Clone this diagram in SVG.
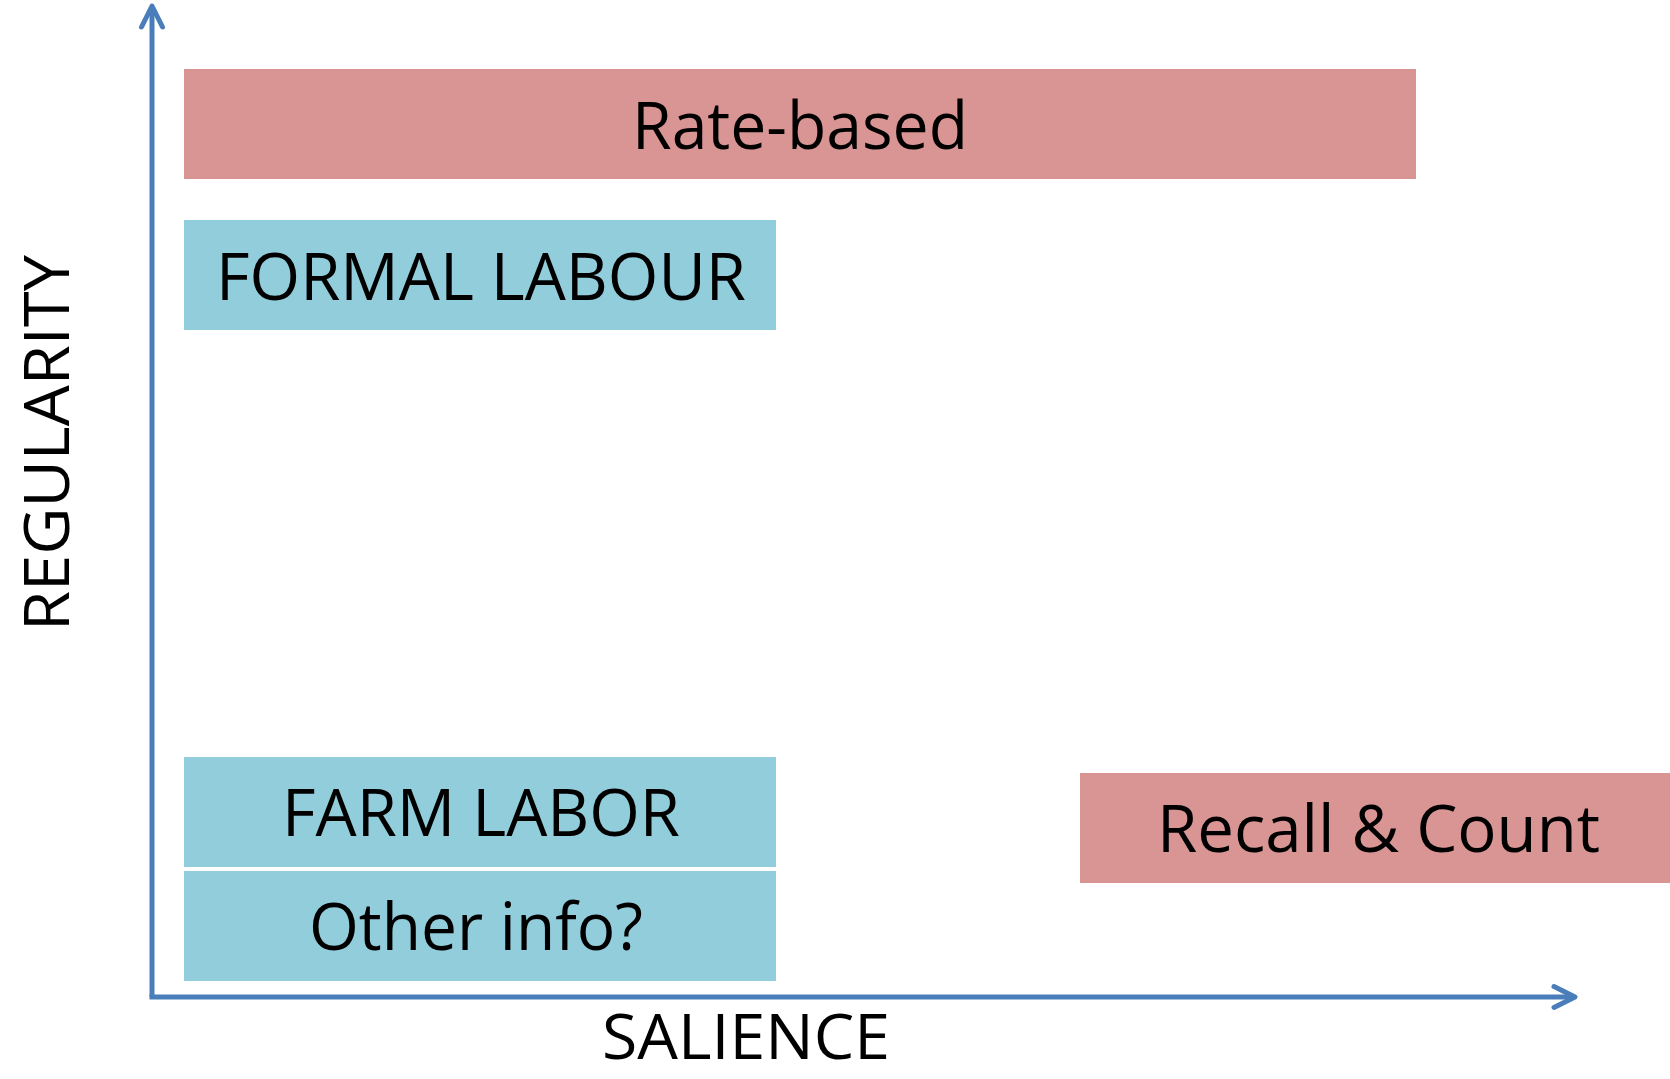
<svg xmlns="http://www.w3.org/2000/svg" width="1670" height="1079" viewBox="0 0 1670 1079">
<style>
.pink{fill:#D99594}
.blue{fill:#92CDDC}
.lbl{font-family:"Open Sans","Liberation Sans",sans-serif;font-size:66px;fill:#000;text-anchor:middle}
.axl{font-size:63px}
.axis{stroke:#4A7EBB;stroke-width:5;fill:none}
</style>
<defs>
<marker id="arr" markerUnits="userSpaceOnUse" markerWidth="40" markerHeight="40" viewBox="-30 -20 40 40" refX="-2" refY="0" orient="auto" overflow="visible">
<path d="M -21 -10.5 L 0 0 L -21 10.5" fill="none" stroke="#4A7EBB" stroke-width="5" stroke-linecap="round" stroke-linejoin="round"/>
</marker>
</defs>
<rect width="1670" height="1079" fill="#fff"/>
<g id="connectors">
<path class="axis" d="M152 997 L152 8" marker-end="url(#arr)"/>
<path class="axis" d="M149.5 997 L1573 997" marker-end="url(#arr)"/>
</g>
<g id="rate-based">
<rect class="pink" x="184" y="69" width="1232" height="110"/>
<text class="lbl" x="800" y="148.5" textLength="336" lengthAdjust="spacingAndGlyphs">Rate-based</text>
</g>
<g id="formal-labour">
<rect class="blue" x="184" y="220" width="592" height="110"/>
<text class="lbl" x="481" y="299.5" textLength="530" lengthAdjust="spacingAndGlyphs">FORMAL LABOUR</text>
</g>
<g id="farm-labor">
<rect class="blue" x="184" y="757" width="592" height="110"/>
<text class="lbl" x="481" y="836" textLength="398" lengthAdjust="spacingAndGlyphs">FARM LABOR</text>
</g>
<g id="other-info">
<rect class="blue" x="184" y="871" width="592" height="110"/>
<text class="lbl" x="476" y="950" textLength="334" lengthAdjust="spacingAndGlyphs">Other info?</text>
</g>
<g id="recall-count">
<rect class="pink" x="1080" y="773" width="592" height="110"/>
<text class="lbl" x="1378.5" y="852.3" textLength="443" lengthAdjust="spacingAndGlyphs">Recall &amp; Count</text>
</g>
<g id="salience">
<text class="lbl axl" x="746" y="1059" textLength="288" lengthAdjust="spacingAndGlyphs">SALIENCE</text>
</g>
<g id="regularity">
<text class="lbl axl" transform="translate(69 443) rotate(-90)" x="0" y="0" textLength="376" lengthAdjust="spacingAndGlyphs">REGULARITY</text>
</g>
</svg>
